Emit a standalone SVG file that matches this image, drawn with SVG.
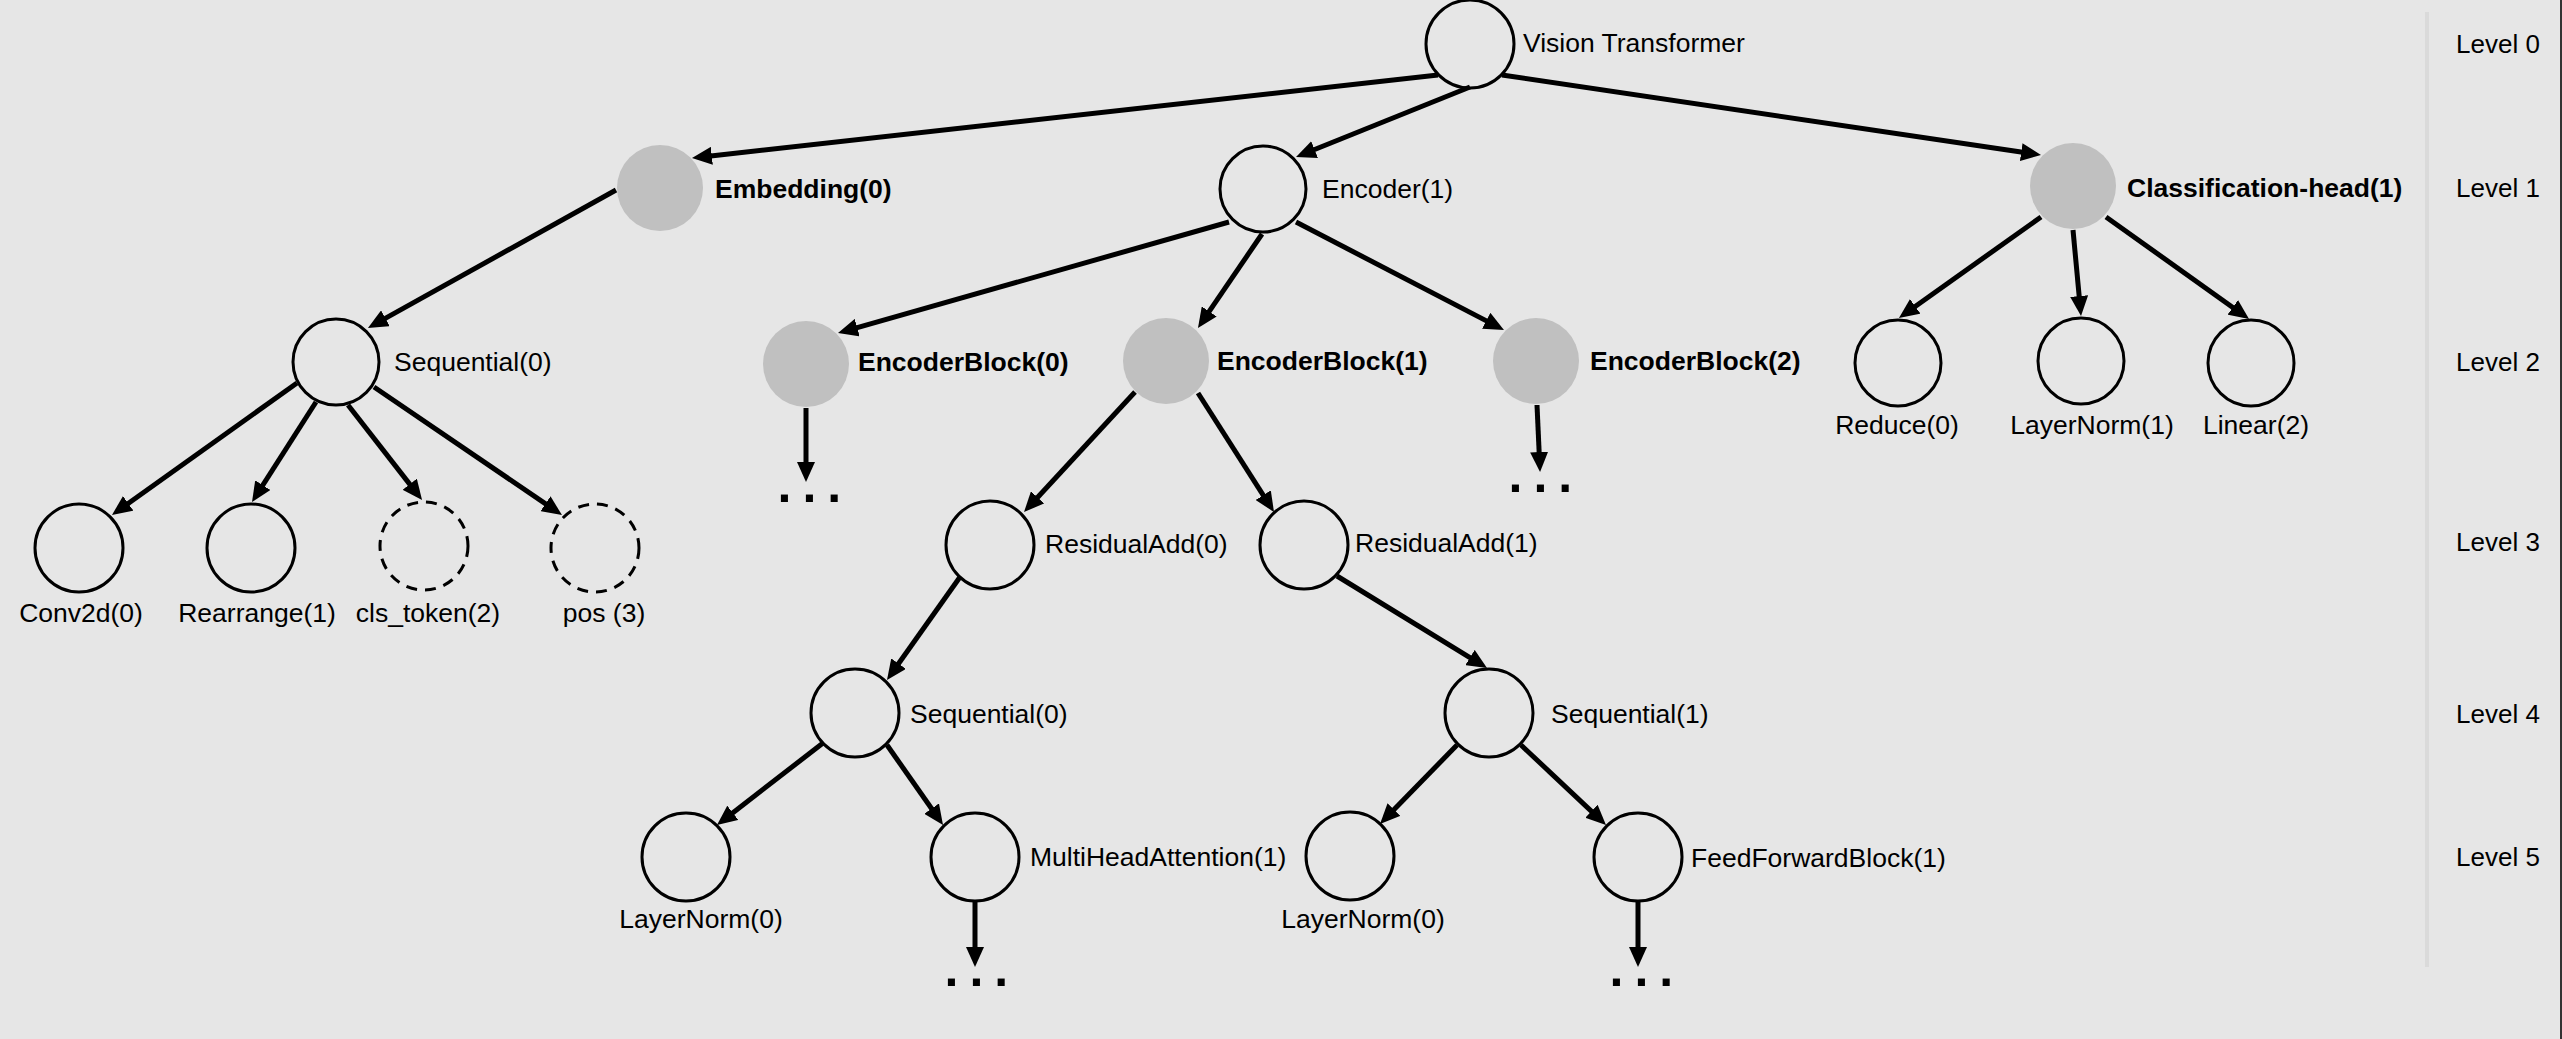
<svg xmlns="http://www.w3.org/2000/svg" width="2562" height="1039" viewBox="0 0 2562 1039">
<style>
.lbl{font-family:"Liberation Sans",Arial,sans-serif;font-size:26.5px;fill:#000}
.b{font-weight:bold}
.mid{text-anchor:middle}
.lvl{font-family:"Liberation Sans",Arial,sans-serif;font-size:26px;fill:#000}
.dots{font-family:"Liberation Sans",Arial,sans-serif;font-size:50px;font-weight:bold;letter-spacing:11px;fill:#000}
.n{fill:none;stroke:#000;stroke-width:3}
.d{fill:none;stroke:#000;stroke-width:3;stroke-dasharray:11 8}
.g{fill:#c0c0c0;stroke:none}
.e{stroke:#000;stroke-width:5;fill:none;marker-end:url(#ah)}
</style>
<defs>
<marker id="ah" markerUnits="userSpaceOnUse" markerWidth="20" markerHeight="18" refX="10" refY="9" orient="auto">
<path d="M0,0 L20,9 L0,18 Z" fill="#000"/>
</marker>
</defs>
<rect x="0" y="0" width="2562" height="1039" fill="#e6e6e6"/>
<rect x="2425" y="12" width="4" height="955" fill="#dadada"/>
<rect x="2560" y="0" width="2" height="1039" fill="#333"/>

<g id="connectors">
<line class="e" x1="1438" y1="75" x2="701.9" y2="156.9"/>
<line class="e" x1="1470" y1="87" x2="1305.3" y2="153.3"/>
<line class="e" x1="1502" y1="75" x2="2031.1" y2="153.5"/>
<line class="e" x1="616" y1="190" x2="376.7" y2="323.1"/>
<line class="e" x1="297" y1="383" x2="120.1" y2="509.2"/>
<line class="e" x1="316" y1="402" x2="257.4" y2="493.6"/>
<line class="e" x1="348" y1="405" x2="415.9" y2="492.1"/>
<line class="e" x1="374" y1="387" x2="553.7" y2="509.4"/>
<line class="e" x1="1229" y1="222" x2="847.6" y2="330.3"/>
<line class="e" x1="1262" y1="234" x2="1203.6" y2="319.7"/>
<line class="e" x1="1296" y1="222" x2="1495.1" y2="325.4"/>
<line class="e" x1="806" y1="408" x2="806" y2="472"/>
<line class="e" x1="1135" y1="392" x2="1030.8" y2="504.7"/>
<line class="e" x1="1198" y1="393" x2="1268.6" y2="503.6"/>
<line class="e" x1="1537" y1="405" x2="1539.6" y2="462"/>
<line class="e" x1="2041" y1="217" x2="1907.1" y2="312.2"/>
<line class="e" x1="2073" y1="230" x2="2080.1" y2="306"/>
<line class="e" x1="2106" y1="217" x2="2240.9" y2="313.2"/>
<line class="e" x1="960" y1="577" x2="892.8" y2="671.8"/>
<line class="e" x1="1337" y1="576" x2="1478.5" y2="662.8"/>
<line class="e" x1="823" y1="743" x2="724.9" y2="818.9"/>
<line class="e" x1="887" y1="745" x2="937.3" y2="816.8"/>
<line class="e" x1="975" y1="901" x2="975" y2="957"/>
<line class="e" x1="1457" y1="745" x2="1387" y2="816.8"/>
<line class="e" x1="1521" y1="745" x2="1598.7" y2="818.1"/>
<line class="e" x1="1638" y1="901" x2="1638" y2="957"/>
</g>

<g id="vision-transformer"><circle class="n" cx="1470" cy="44" r="44"/><text class="lbl" x="1523" y="52">Vision Transformer</text></g>
<g id="embedding"><circle class="g" cx="660" cy="188" r="43"/><text class="lbl b" x="715" y="198">Embedding(0)</text></g>
<g id="encoder"><circle class="n" cx="1263" cy="189" r="43"/><text class="lbl" x="1322" y="198">Encoder(1)</text></g>
<g id="classification-head"><circle class="g" cx="2073" cy="186" r="43"/><text class="lbl b" x="2127" y="197">Classification-head(1)</text></g>

<g id="sequential-emb"><circle class="n" cx="336" cy="362" r="43"/><text class="lbl" x="394" y="371">Sequential(0)</text></g>
<g id="encoderblock-0"><circle class="g" cx="806" cy="364" r="43"/><text class="lbl b" x="858" y="371">EncoderBlock(0)</text><text class="dots" x="777.5" y="502">...</text></g>
<g id="encoderblock-1"><circle class="g" cx="1166" cy="361" r="43"/><text class="lbl b" x="1217" y="370">EncoderBlock(1)</text></g>
<g id="encoderblock-2"><circle class="g" cx="1536" cy="361" r="43"/><text class="lbl b" x="1590" y="370">EncoderBlock(2)</text><text class="dots" x="1508.5" y="492">...</text></g>
<g id="reduce"><circle class="n" cx="1898" cy="363" r="43"/><text class="lbl mid" x="1897" y="434">Reduce(0)</text></g>
<g id="layernorm-1"><circle class="n" cx="2081" cy="361" r="43"/><text class="lbl mid" x="2092" y="434">LayerNorm(1)</text></g>
<g id="linear"><circle class="n" cx="2251" cy="363" r="43"/><text class="lbl mid" x="2256" y="434">Linear(2)</text></g>

<g id="conv2d"><circle class="n" cx="79" cy="548" r="44"/><text class="lbl mid" x="81" y="622">Conv2d(0)</text></g>
<g id="rearrange"><circle class="n" cx="251" cy="548" r="44"/><text class="lbl mid" x="257" y="622">Rearrange(1)</text></g>
<g id="cls-token"><circle class="d" cx="424" cy="546" r="44"/><text class="lbl mid" x="428" y="622">cls_token(2)</text></g>
<g id="pos"><circle class="d" cx="595" cy="548" r="44"/><text class="lbl mid" x="604" y="622">pos (3)</text></g>
<g id="residualadd-0"><circle class="n" cx="990" cy="545" r="44"/><text class="lbl" x="1045" y="553">ResidualAdd(0)</text></g>
<g id="residualadd-1"><circle class="n" cx="1304" cy="545" r="44"/><text class="lbl" x="1355" y="552">ResidualAdd(1)</text></g>

<g id="sequential-0"><circle class="n" cx="855" cy="713" r="44"/><text class="lbl" x="910" y="723">Sequential(0)</text></g>
<g id="sequential-1"><circle class="n" cx="1489" cy="713" r="44"/><text class="lbl" x="1551" y="723">Sequential(1)</text></g>

<g id="layernorm-0a"><circle class="n" cx="686" cy="857" r="44"/><text class="lbl mid" x="701" y="928">LayerNorm(0)</text></g>
<g id="multiheadattention"><circle class="n" cx="975" cy="857" r="44"/><text class="lbl" x="1030" y="866">MultiHeadAttention(1)</text><text class="dots" x="944.5" y="986">...</text></g>
<g id="layernorm-0b"><circle class="n" cx="1350" cy="856" r="44"/><text class="lbl mid" x="1363" y="928">LayerNorm(0)</text></g>
<g id="feedforwardblock"><circle class="n" cx="1638" cy="857" r="44"/><text class="lbl" x="1691" y="867">FeedForwardBlock(1)</text><text class="dots" x="1609.5" y="986">...</text></g>

<g id="levels">
<text class="lvl" x="2456" y="53">Level 0</text>
<text class="lvl" x="2456" y="197">Level 1</text>
<text class="lvl" x="2456" y="371">Level 2</text>
<text class="lvl" x="2456" y="551">Level 3</text>
<text class="lvl" x="2456" y="723">Level 4</text>
<text class="lvl" x="2456" y="866">Level 5</text>
</g>
</svg>
